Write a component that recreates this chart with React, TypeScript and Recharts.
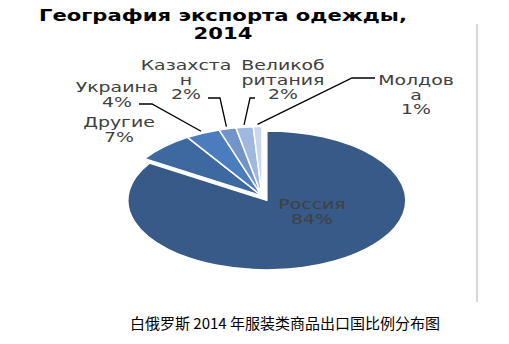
import React from 'react';
import { PieChart, Pie, Cell } from 'recharts';

const countries = ['Россия', 'Другие', 'Украина', 'Казахстан', 'Великобритания', 'Молдова'];
const shares = [84, 7, 4, 2, 2, 1];
// label text wrapped the way the original chart wraps it
const labelText = [['Россия'], ['Другие'], ['Украина'], ['Казахста', 'н'], ['Великоб', 'ритания'], ['Молдов', 'а']];

const colors = ['#375a88', '#3e69a0', '#4a7cbe', '#7295c9', '#a0b7de', '#c9d6ee'];

// layout only: explosion, label anchor (rel. to pie centre) and leader line points (rel. to anchor)
const explodeBy: Record<string, number> = { 'Россия': 10 };
const labelAnchor = [[50, 13], [-143, -69], [-145, -104], [-76, -126], [21, -126], [154, -111]];
const leader: (number[][] | null)[] = [
  null,
  null,
  [[22, 12], [35, 12]],
  [[22, 28], [34, 28]],
  [[-28, 28], [-33, 28]],
  [[-41, -7], [-64, -7]],
];

const data = countries.map((name, i) => ({ name, value: shares[i] }));

const TILT = 0.5;
const RAD = Math.PI / 180;
const STRETCH = 1.4;

const ellPt = (cx: number, cy: number, r: number, a: number) => [
  cx + r * Math.cos(a * RAD),
  cy - r * TILT * Math.sin(a * RAD),
];

const EllipseSector = (props: any) => {
  const { cx, cy, outerRadius, startAngle, endAngle, fill, name } = props;
  const e = explodeBy[name] || 0;
  const mid = (startAngle + endAngle) / 2;
  const ox = cx + e * Math.cos(mid * RAD);
  const oy = cy - e * TILT * Math.sin(mid * RAD);
  const [x1, y1] = ellPt(ox, oy, outerRadius, startAngle);
  const [x2, y2] = ellPt(ox, oy, outerRadius, endAngle);
  const delta = startAngle - endAngle;
  const large = Math.abs(delta) > 180 ? 1 : 0;
  const sweep = delta > 0 ? 1 : 0;
  const d = `M${ox},${oy} L${x1},${y1} A${outerRadius},${outerRadius * TILT} 0 ${large} ${sweep} ${x2},${y2} Z`;
  return <path d={d} fill={fill} stroke="#ffffff" strokeWidth={1.5} strokeLinejoin="round" />;
};

const renderLabel = (props: any) => {
  const { cx, cy, midAngle, outerRadius, index, value } = props;
  const [dx, dy] = labelAnchor[index];
  const ax = cx + dx;
  const ay = cy + dy;
  const lines = [...labelText[index], `${value}%`];
  const pts = leader[index];
  let path = null;
  if (pts) {
    const [ex, ey] = ellPt(cx, cy, outerRadius * 1.03, midAngle);
    const p = pts.map(([px, py]) => `${ax + px},${ay + py}`).join(' ');
    path = <polyline points={`${p} ${ex},${ey}`} fill="none" stroke="#000" strokeWidth={1.3} />;
  }
  return (
    <g key={`lbl-${index}`}>
      {path}
      {lines.map((t, i) => (
        <text
          key={i}
          transform={`translate(${ax},${ay + i * 14.5}) scale(${STRETCH},1)`}
          textAnchor="middle"
          fontFamily="DejaVu Sans"
          fontSize={13.5}
          fill="#404040"
        >
          {t}
        </text>
      ))}
    </g>
  );
};

export default function App() {
  return (
    <div style={{ position: 'absolute', left: 0, top: 0, width: 509, height: 344, background: '#fff' }}>
      <PieChart width={509} height={344}>
        <Pie
          data={data}
          dataKey="value"
          nameKey="name"
          cx={257}
          cy={191}
          outerRadius={139}
          startAngle={90}
          endAngle={-270}
          isAnimationActive={false}
          shape={EllipseSector}
          label={renderLabel}
          labelLine={false}
        >
          {data.map((d, i) => (
            <Cell key={`cell-${i}`} fill={colors[i]} />
          ))}
        </Pie>
      </PieChart>
      <div
        style={{
          position: 'absolute', left: 0, top: 7, width: 446, textAlign: 'center',
          transform: 'scaleX(1.28)', transformOrigin: '223px 0',
          fontFamily: '"DejaVu Sans"', fontWeight: 'bold', fontSize: 16.5, lineHeight: '18px', color: '#000',
        }}
      >
        География экспорта одежды,<br />2014
      </div>
      <div style={{ position: 'absolute', left: 476, top: 24, width: 1.5, height: 278, background: '#d6d6e4' }} />
      <div
        style={{
          position: 'absolute', left: 0, top: 313, width: 570, textAlign: 'center',
          fontFamily: '"Noto Sans CJK SC"', fontSize: 15, lineHeight: '20px', color: '#000',
        }}
      >
        白俄罗斯 2014 年服装类商品出口国比例分布图
      </div>
    </div>
  );
}
